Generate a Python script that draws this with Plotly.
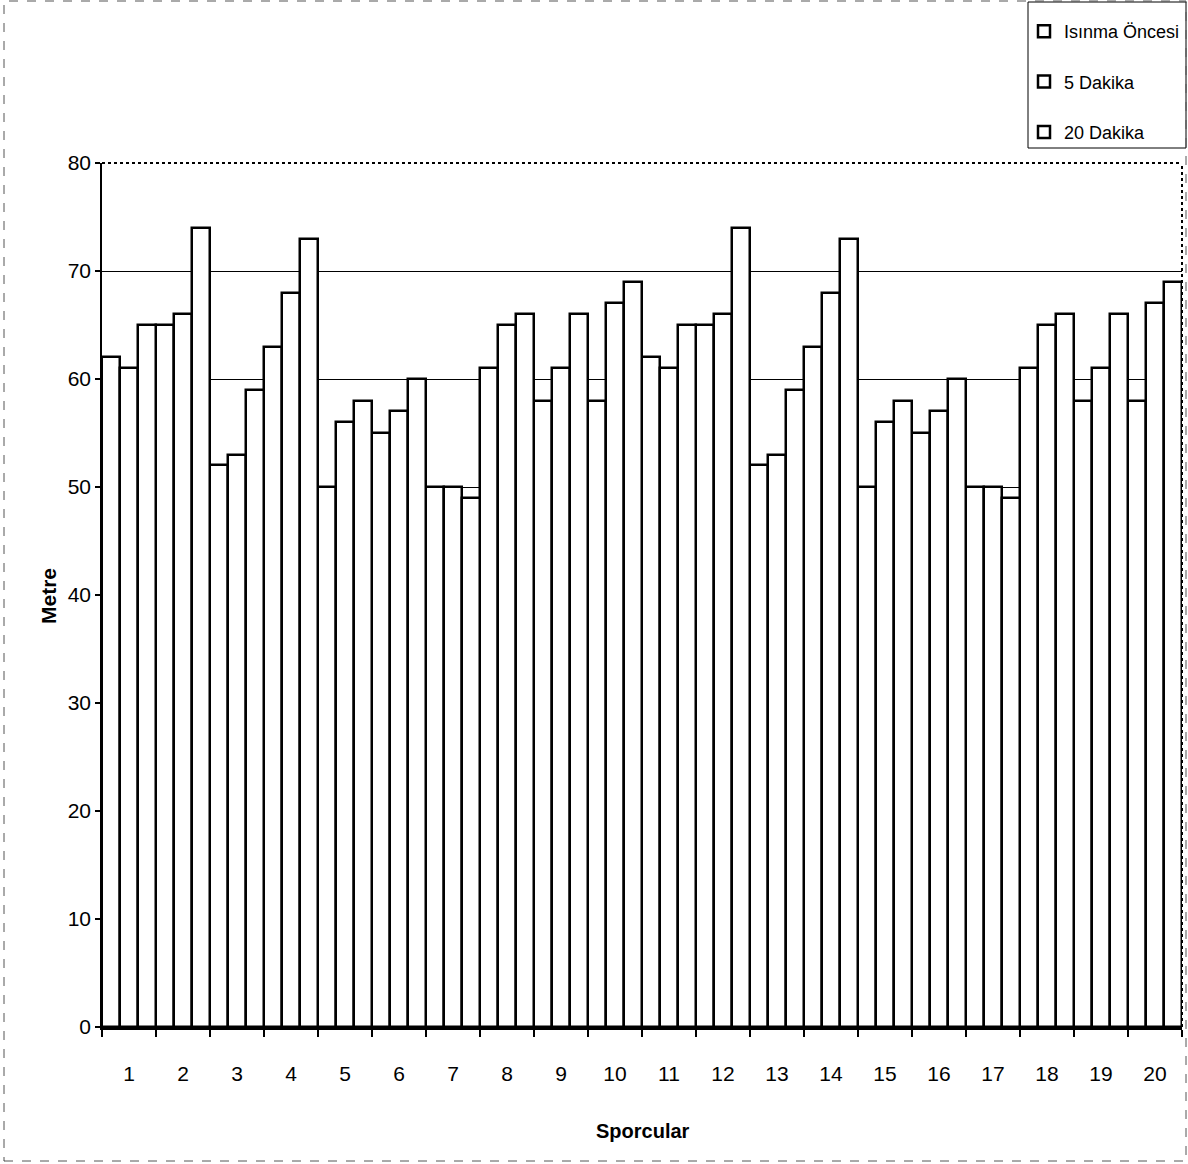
import plotly.graph_objects as go

# ---- data ----
athletes = [str(i) for i in range(1, 21)]
isinma_oncesi = [62, 65, 52, 63, 50, 55, 50, 61, 58, 58, 62, 65, 52, 63, 50, 55, 50, 61, 58, 58]
dakika_5 = [61, 66, 53, 68, 56, 57, 50, 65, 61, 67, 61, 66, 53, 68, 56, 57, 50, 65, 61, 67]
dakika_20 = [65, 74, 59, 73, 58, 60, 49, 66, 66, 69, 65, 74, 59, 73, 58, 60, 49, 66, 66, 69]
series_names = ["Isınma Öncesi", "5 Dakika", "20 Dakika"]
y_ticks = [0, 10, 20, 30, 40, 50, 60, 70, 80]

W, H = 1188, 1164
L, R, T, B = 102, 6, 163, 137
PW, PH = W - L - R, H - T - B

FONT = "Liberation Sans Narrow, Arial Narrow, Liberation Sans, Arial, sans-serif"


def px(x):
    return (x - L) / PW


def py(y):
    return (H - B - y) / PH


fig = go.Figure()
for i, (name, vals) in enumerate(zip(series_names, [isinma_oncesi, dakika_5, dakika_20])):
    fig.add_trace(go.Bar(
        name=name, x=athletes, y=vals,
        marker=dict(color="white", line=dict(color="black", width=2.5)),
        legendgroup=f"g{i}",
    ))

fig.update_layout(
    width=W, height=H,
    margin=dict(l=L, r=R, t=T, b=B, autoexpand=False),
    paper_bgcolor="white", plot_bgcolor="white",
    barmode="group", bargap=0, bargroupgap=0,
    font=dict(family=FONT, color="black", size=18),
    showlegend=True,
    legend=dict(
        x=px(1024), y=py(13), xanchor="left", yanchor="top",
        bgcolor="rgba(0,0,0,0)", borderwidth=0,
        font=dict(family=FONT, size=18, color="black"),
        tracegroupgap=24, traceorder="grouped",
        itemwidth=30,
    ),
    xaxis=dict(
        type="category", tickson="boundaries",
        ticks="outside", ticklen=7, tickcolor="black", tickwidth=1.5,
        showline=True, linecolor="black", linewidth=3,
        showgrid=False, ticklabelstandoff=26,
        tickfont=dict(family=FONT, size=21),
    ),
    yaxis=dict(
        range=[0, 80], tickvals=y_ticks,
        ticks="outside", ticklen=5, tickcolor="black", tickwidth=1.5,
        showline=True, linecolor="black", linewidth=1.5,
        showgrid=True, gridcolor="black", gridwidth=1,
        zeroline=False,
        tickfont=dict(family=FONT, size=21),
    ),
    shapes=[
        # plot area border (dotted top & right)
        dict(type="line", xref="paper", yref="paper", x0=0, x1=1, y0=1, y1=1,
             line=dict(color="black", width=2, dash="dot")),
        dict(type="line", xref="paper", yref="paper", x0=1, x1=1, y0=0, y1=1,
             line=dict(color="black", width=2, dash="dot")),
        # legend box
        dict(type="rect", xref="paper", yref="paper",
             x0=px(1028), x1=px(1186), y0=py(148), y1=py(2),
             line=dict(color="black", width=1)),
        # outer chart border
        dict(type="rect", xref="paper", yref="paper",
             x0=px(4), x1=px(1186), y0=py(1161), y1=py(1),
             line=dict(color="#555555", width=1, dash="dash")),
    ],
    annotations=[
        dict(text="<b>Metre</b>", xref="paper", yref="paper",
             x=px(48), y=py(596), xanchor="center", yanchor="middle",
             textangle=-90, showarrow=False,
             font=dict(family=FONT, size=21)),
        dict(text="<b>Sporcular</b>", xref="paper", yref="paper",
             x=px(643), y=py(1131), xanchor="center", yanchor="middle",
             showarrow=False,
             font=dict(family=FONT, size=20)),
    ],
)

fig.write_html("out.html")
